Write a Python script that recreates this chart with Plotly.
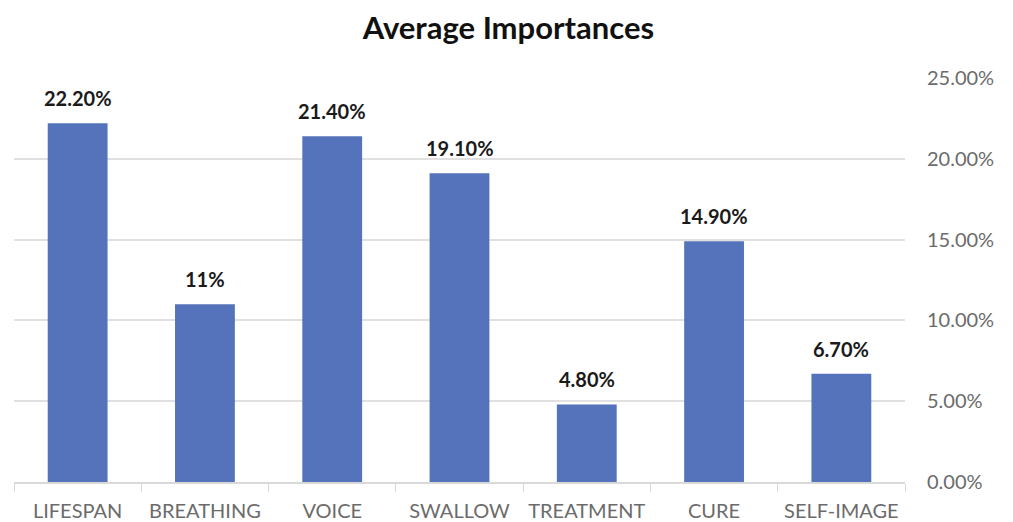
import plotly.graph_objects as go

categories = ["LIFESPAN", "BREATHING", "VOICE", "SWALLOW", "TREATMENT", "CURE", "SELF-IMAGE"]
values = [0.222, 0.11, 0.214, 0.191, 0.048, 0.149, 0.067]
labels = ["22.20%", "11%", "21.40%", "19.10%", "4.80%", "14.90%", "6.70%"]
y_ticks = [0, 0.05, 0.10, 0.15, 0.20, 0.25]
y_tick_labels = ["0.00%", "5.00%", "10.00%", "15.00%", "20.00%", "25.00%"]

FONT = "Lato, 'Open Sans', sans-serif"

fig = go.Figure()
fig.add_trace(go.Bar(
    x=categories, y=values,
    marker=dict(color="#5473BA", line=dict(width=0)),
    hoverinfo="skip",
))

for c, v, t in zip(categories, values, labels):
    fig.add_annotation(x=c, y=v, text="<b>" + t + "</b>", showarrow=False, yanchor="bottom",
                       yshift=11, font=dict(family=FONT, size=20, color="#1a1a1a"),
                       xref="x", yref="y")

fig.update_layout(
    width=1013, height=522,
    margin=dict(l=6, r=116, t=70, b=48),
    paper_bgcolor="white", plot_bgcolor="white",
    bargap=0.53,
    showlegend=False,
    title=dict(text="<b>Average Importances</b>", x=0.494, xanchor="center",
               y=0.962, yanchor="middle",
               font=dict(family=FONT, size=31, color="#111111")),
    font=dict(family=FONT),
)
fig.update_xaxes(
    type="category",
    showline=True, linecolor="#d9d9d9", linewidth=1.5,
    ticks="outside", tickson="boundaries", ticklen=8, tickcolor="#d9d9d9",
    ticklabelstandoff=10,
    tickfont=dict(family=FONT, size=20, color="#6b6b6b"),
    showgrid=False,
)
fig.update_yaxes(
    side="right", range=[0, 0.25],
    tickvals=y_ticks, ticktext=y_tick_labels,
    showgrid=True, gridcolor="#e0e0e0", gridwidth=1.5,
    zeroline=False, showline=False, ticks="",
    ticklabelstandoff=21,
    tickfont=dict(family=FONT, size=20, color="#6b6b6b"),
)

fig.write_html("out.html")
